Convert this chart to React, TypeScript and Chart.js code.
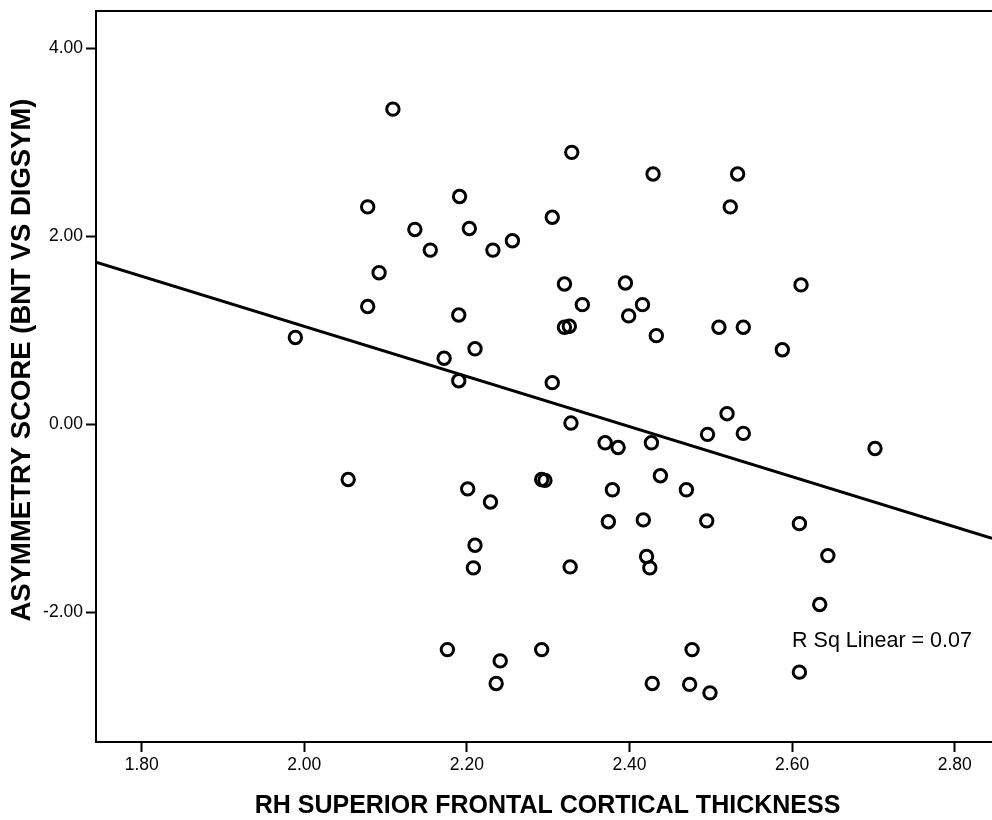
import React, { useEffect, useRef } from "react";
import { Chart, registerables } from "chart.js";

Chart.register(...registerables);

// Axis labels
const xAxisTitle = "RH SUPERIOR FRONTAL CORTICAL THICKNESS";
const yAxisTitle = "ASYMMETRY SCORE (BNT VS DIGSYM)";
const fitLabel = "R Sq Linear = 0.07";

// Axis ranges and ticks
const xRange = [1.7438, 2.8459];
const yRange = [-3.383, 4.394];
const xTickValues = [1.8, 2.0, 2.2, 2.4, 2.6, 2.8];
const yTickValues = [-2, 0, 2, 4];

// Observations
const thickness = [
  2.109, 2.191, 2.078, 2.136, 2.203, 2.155, 2.232, 2.256, 2.092, 2.078, 2.19, 1.989, 2.21, 2.172, 2.19,
  2.054, 2.201, 2.229, 2.21, 2.208, 2.176, 2.241, 2.236,
  2.329, 2.429, 2.533, 2.524, 2.305, 2.32, 2.395, 2.342, 2.416, 2.399, 2.32, 2.326, 2.433, 2.51, 2.54, 2.305, 2.328, 2.52,
  2.496, 2.54, 2.37, 2.386, 2.427, 2.292, 2.296, 2.438, 2.379, 2.47, 2.374, 2.417, 2.495, 2.421, 2.425, 2.327, 2.292, 2.477, 2.428, 2.474, 2.499,
  2.611, 2.588, 2.702, 2.609, 2.644, 2.634, 2.609,
];
const asymmetry = [
  3.35, 2.42, 2.31, 2.07, 2.08, 1.85, 1.85, 1.95, 1.61, 1.25, 1.16, 0.92, 0.8, 0.7, 0.46,
  -0.59, -0.69, -0.83, -1.29, -1.53, -2.4, -2.52, -2.76,
  2.89, 2.66, 2.66, 2.31, 2.2, 1.49, 1.5, 1.27, 1.27, 1.15, 1.03, 1.04, 0.94, 1.03, 1.03, 0.44, 0.01, 0.11,
  -0.11, -0.1, -0.2, -0.25, -0.2, -0.59, -0.6, -0.55, -0.7, -0.7, -1.04, -1.02, -1.03, -1.41, -1.53, -1.52, -2.4, -2.4, -2.76, -2.77, -2.86,
  1.48, 0.79, -0.26, -1.06, -1.4, -1.92, -2.64,
];

// Fit line endpoints
const fitX = [1.7438, 2.8459];
const fitY = [1.723, -1.217];

// Annotation position (data units)
const fitLabelPos = [2.6, -2.31];

const FONT = '"Liberation Sans", Arial, sans-serif';

export default function App() {
  const ref = useRef<HTMLCanvasElement | null>(null);

  useEffect(() => {
    const canvas = ref.current;
    if (!canvas) return;

    const decor = {
      id: "decor",
      afterDraw(chart: any) {
        const { ctx, chartArea, scales } = chart;
        ctx.save();
        // top border
        ctx.strokeStyle = "#000";
        ctx.lineWidth = 2;
        ctx.beginPath();
        ctx.moveTo(chartArea.left - 1, chartArea.top);
        ctx.lineTo(chartArea.right, chartArea.top);
        ctx.stroke();

        // axis titles
        ctx.fillStyle = "#000";
        ctx.font = `bold 25px ${FONT}`;
        ctx.textAlign = "center";
        ctx.textBaseline = "middle";
        ctx.fillText(xAxisTitle, 547.5, 806);

        ctx.save();
        ctx.font = `bold 27.5px ${FONT}`;
        ctx.translate(22.5, 360);
        ctx.rotate(-Math.PI / 2);
        ctx.fillText(yAxisTitle, 0, 0);
        ctx.restore();

        // fit annotation
        ctx.font = `21.5px ${FONT}`;
        ctx.textAlign = "left";
        ctx.textBaseline = "middle";
        ctx.fillText(
          fitLabel,
          scales.x.getPixelForValue(fitLabelPos[0]),
          scales.y.getPixelForValue(fitLabelPos[1])
        );
        ctx.restore();
      },
    };

    const chart = new Chart(canvas, {
      type: "scatter",
      data: {
        datasets: [
          {
            type: "line",
            data: fitX.map((x, i) => ({ x, y: fitY[i] })),
            borderColor: "#000",
            borderWidth: 3,
            pointRadius: 0,
            fill: false,
          } as any,
          {
            data: thickness.map((x, i) => ({ x, y: asymmetry[i] })),
            pointStyle: "circle",
            pointRadius: 6.2,
            pointBorderWidth: 3,
            borderColor: "#000",
            pointBorderColor: "#000",
            backgroundColor: "rgba(0,0,0,0)",
            pointBackgroundColor: "rgba(0,0,0,0)",
          } as any,
        ],
      },
      options: {
        animation: false,
        responsive: false,
        devicePixelRatio: 1,
        layout: { autoPadding: false, padding: { top: 11, left: 0, right: 0, bottom: 0 } },
        plugins: {
          legend: { display: false },
          tooltip: { enabled: false },
        },
        scales: {
          x: {
            type: "linear",
            min: xRange[0],
            max: xRange[1],
            afterBuildTicks: (s: any) => {
              s.ticks = xTickValues.map((v) => ({ value: v }));
            },
            afterFit: (s: any) => {
              s.height = 78;
              s.paddingLeft = 0;
              s.paddingRight = 0;
            },
            grid: {
              display: true,
              drawOnChartArea: false,
              drawTicks: true,
              tickLength: 10,
              tickWidth: 2,
              tickColor: "#000",
            },
            border: { display: true, color: "#000", width: 2 },
            ticks: {
              color: "#000",
              font: { family: FONT, size: 17.5 },
              padding: 3,
              maxRotation: 0,
              autoSkip: false,
              callback: (v: any) => Number(v).toFixed(2),
            },
          },
          y: {
            type: "linear",
            min: yRange[0],
            max: yRange[1],
            afterBuildTicks: (s: any) => {
              s.ticks = yTickValues.map((v) => ({ value: v }));
            },
            afterFit: (s: any) => {
              s.width = 96;
              s.paddingTop = 0;
              s.paddingBottom = 0;
            },
            grid: {
              display: true,
              drawOnChartArea: false,
              drawTicks: true,
              tickLength: 10,
              tickWidth: 2,
              tickColor: "#000",
            },
            border: { display: true, color: "#000", width: 2 },
            ticks: {
              color: "#000",
              font: { family: FONT, size: 17.5 },
              padding: 3,
              autoSkip: false,
              callback: (v: any) => Number(v).toFixed(2),
            },
          },
        },
      },
      plugins: [decor],
    } as any);

    return () => chart.destroy();
  }, []);

  return (
    <div style={{ position: "fixed", left: 0, top: 0, width: 992, height: 820, background: "#fff" }}>
      <canvas ref={ref} width={992} height={820} style={{ display: "block" }} />
    </div>
  );
}
